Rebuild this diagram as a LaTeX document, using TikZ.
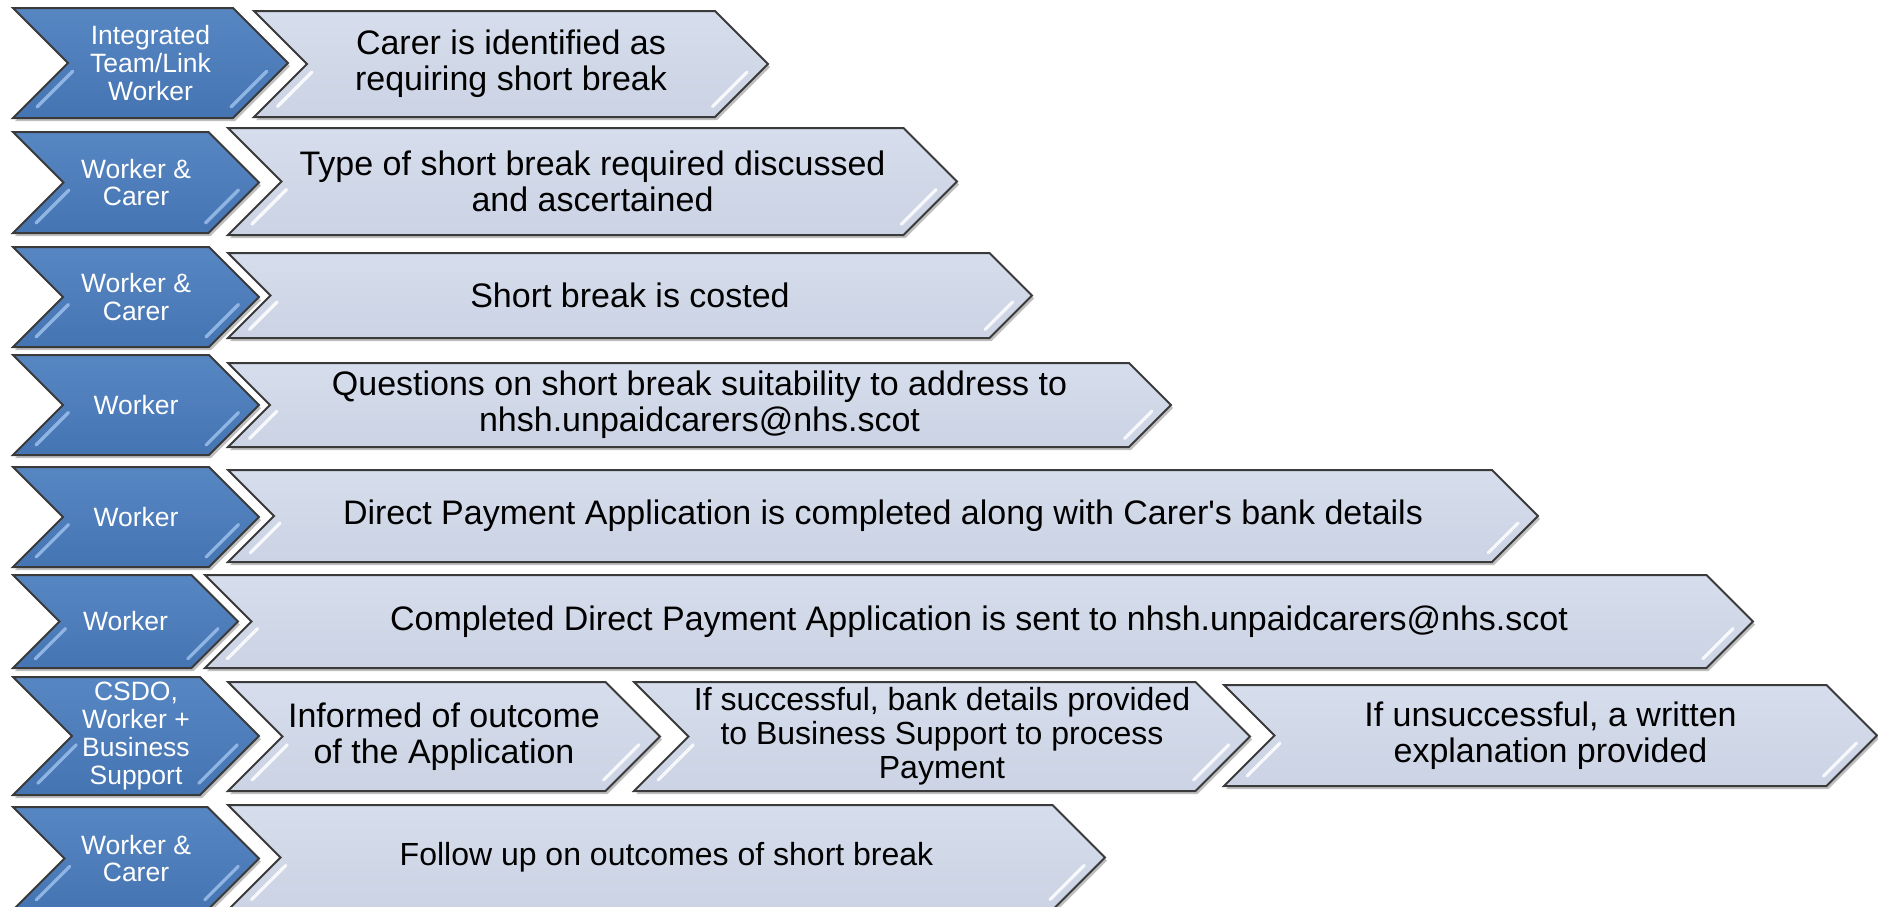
\documentclass[tikz,border=0pt]{standalone}
\usepackage{fontspec}
\setmainfont{Liberation Sans}
\setmonofont{Liberation Sans}
\definecolor{outl}{HTML}{3A3A3A}
\definecolor{bluetop}{HTML}{5787C3}
\definecolor{bluebot}{HTML}{4574B2}
\definecolor{lighttop}{HTML}{D6DDEC}
\definecolor{lightbot}{HTML}{CBD3E4}
\definecolor{bluestreak}{HTML}{9CC0EC}
\tikzset{
  blueshape/.style={draw=outl, line width=1pt, top color=bluetop, bottom color=bluebot},
  lightshape/.style={draw=outl, line width=1pt, top color=lighttop, bottom color=lightbot},
  shadowshape/.style={fill=black, opacity=0.25},
  streak/.style={draw=#1, line width=1.6pt, line cap=round, opacity=0.85},
  bluetext/.style={text=white, font=\fontsize{13.25}{13.9}\selectfont, align=center, inner sep=0pt},
  lighttext/.style={text=black, font=\fontsize{17}{18}\selectfont, align=center, inner sep=0pt},
  smalltext/.style={text=black, font=\fontsize{16}{16.9}\selectfont, align=center, inner sep=0pt}
}
% #1 name, #2 L, #3 T, #4 B, #5 R, #6 shape style, #7 streak colour
\newcommand\mychev[7]{%
  \pgfmathsetmacro\chH{(#4-#3)/2}%
  \pgfmathsetmacro\chM{(#4+#3)/2}%
  \pgfmathsetmacro\chC{(#2+#5)/2}%
  \fill[shadowshape,shift={(2,3)}] (#2,#3) -- ({#5-\chH},#3) -- (#5,\chM) -- ({#5-\chH},#4) -- (#2,#4) -- ({#2+\chH},\chM) -- cycle;
  \path[#6] (#2,#3) -- ({#5-\chH},#3) -- (#5,\chM) -- ({#5-\chH},#4) -- (#2,#4) -- ({#2+\chH},\chM) -- cycle;
  \draw[streak=#7] ({#2+0.85*\chH+13},{\chM+0.15*\chH}) -- ({#2+0.2*\chH+13},{\chM+0.8*\chH});
  \draw[streak=#7] ({#5-0.15*\chH-13},{\chM+0.15*\chH}) -- ({#5-0.8*\chH-13},{\chM+0.8*\chH});
  \coordinate (#1) at (\chC,\chM);
}
\newcommand\straightq{{\ttfamily '}}
\begin{document}
\begin{tikzpicture}[x=0.5pt,y=-0.5pt]
\useasboundingbox (0,0) rectangle (1878,906);
\fill[white] (0,0) rectangle (1878,906);
% blue chevrons
\mychev{b1}{13}{8}{118}{288}{blueshape}{bluestreak}
\mychev{b2}{13}{132}{233}{259}{blueshape}{bluestreak}
\mychev{b3}{13}{247}{347}{259}{blueshape}{bluestreak}
\mychev{b4}{13}{355}{455}{259}{blueshape}{bluestreak}
\mychev{b5}{13}{467}{567}{259}{blueshape}{bluestreak}
\mychev{b6}{13}{575}{668}{238}{blueshape}{bluestreak}
\mychev{b7}{13}{677}{795}{259}{blueshape}{bluestreak}
\mychev{b8}{13}{807}{910}{259}{blueshape}{bluestreak}
% light chevrons
\mychev{l1}{254}{11}{117}{768}{lightshape}{white}
\mychev{l2}{228}{128}{235}{957}{lightshape}{white}
\mychev{l3}{228}{253}{338}{1032}{lightshape}{white}
\mychev{l4}{228}{363}{447}{1171}{lightshape}{white}
\mychev{l5}{228}{470}{562}{1538}{lightshape}{white}
\mychev{l6}{205}{575}{668}{1753}{lightshape}{white}
\mychev{l7a}{228}{682}{791}{660}{lightshape}{white}
\mychev{l7b}{634}{682}{791}{1250}{lightshape}{white}
\mychev{l7c}{1224}{685}{786}{1877}{lightshape}{white}
\mychev{l8}{228}{805}{910}{1105}{lightshape}{white}
% blue labels
\node[bluetext] (t-b1) at (b1) {Integrated\\Team/Link\\Worker};
\node[bluetext] (t-b2) at (b2) {Worker \&\\Carer};
\node[bluetext] (t-b3) at (b3) {Worker \&\\Carer};
\node[bluetext] (t-b4) at (b4) {Worker};
\node[bluetext] (t-b5) at (b5) {Worker};
\node[bluetext] (t-b6) at (b6) {Worker};
\node[bluetext] (t-b7) at (b7) {CSDO,\\Worker +\\Business\\Support};
\node[bluetext] (t-b8) at (b8) {Worker \&\\Carer};
% light labels
\node[lighttext] (t-l1) at (l1) {Carer is identified as\\requiring short break};
\node[lighttext] (t-l2) at (l2) {Type of short break required discussed\\and ascertained};
\node[lighttext] (t-l3) at (l3) {Short break is costed};
\node[lighttext] (t-l4) at (l4) {Questions on short break suitability to address to\\nhsh.unpaidcarers@nhs.scot};
\node[lighttext] (t-l5) at (l5) {Direct Payment Application is completed along with Carer\straightq s bank details};
\node[lighttext] (t-l6) at (l6) {Completed Direct Payment Application is sent to nhsh.unpaidcarers@nhs.scot};
\node[lighttext] (t-l7a) at (l7a) {Informed of outcome\\of the Application};
\node[smalltext] (t-l7b) at (l7b) {If successful, bank details provided\\to Business Support to process\\Payment};
\node[lighttext] (t-l7c) at (l7c) {If unsuccessful, a written\\explanation provided};
\node[smalltext] (t-l8) at (l8) {Follow up on outcomes of short break};
\end{tikzpicture}
\end{document}
